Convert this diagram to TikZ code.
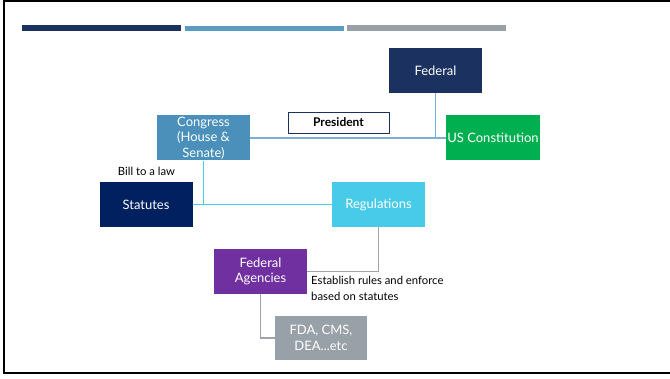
\documentclass[tikz,border=0pt]{standalone}
\usepackage{fontspec}
\setmainfont{Lato}
\usepackage{xcolor}
\usetikzlibrary{positioning}

\definecolor{navy}{HTML}{1B3160}
\definecolor{darknavy}{HTML}{002060}
\definecolor{steelblue}{HTML}{4A90BA}
\definecolor{linkblue}{HTML}{7BAFD4}
\definecolor{cyanbox}{HTML}{48CBE8}
\definecolor{greenbox}{HTML}{00B050}
\definecolor{purplebox}{HTML}{7030A0}
\definecolor{graybox}{HTML}{98A0A8}
\definecolor{grayline}{HTML}{A0A4AA}

\begin{document}
\begin{tikzpicture}[x=1pt, y=-1pt,
            box/.style={rectangle, minimum width=93pt, minimum height=45pt, align=center, inner sep=1pt,
                        text=white, font=\fontsize{13}{15.5}\selectfont},
            note/.style={font=\fontsize{11.3}{16}\selectfont, align=left, inner sep=0pt},
            link/.style={line width=1.5pt}]
            \useasboundingbox (0,0) rectangle (670,379);

            % 边框与标题条
            \draw[line width=2pt] (670,1) -- (3.5,1) -- (3.5,373.5) -- (670,373.5);
            \fill[navy] (22,25) rectangle (181,31);
            \fill[steelblue!90!white] (185,26) rectangle (344,31);
            \fill[graybox] (347,25) rectangle (506,31);

            % 上层
            \node[box, fill=navy] (federal) at (435.5,70.5) {Federal};
            \node[draw=navy, line width=0.8pt, minimum width=101pt, minimum height=21pt,
                  font=\bfseries\fontsize{12}{14}\selectfont] (president) at (338.5,122.5) {President};
            \node[box, fill=steelblue] (congress) at (203.5,138) {Congress\\(House \&\\Senate)};
            \node[box, fill=greenbox, minimum width=94pt, inner sep=0pt] (constitution) at (493,138) {US Constitution};

            % 中层
            \node[box, fill=darknavy] (statutes) at (146,204.5) {Statutes};
            \node[box, fill=cyanbox] (regulations) at (378.5,204.5) {Regulations};
            \node[note] (bill) at (146.5,171) {Bill to a law};

            % 下层
            \node[box, fill=purplebox] (agencies) at (260.5,271.5) {Federal\\Agencies};
            \node[note, anchor=north west] (establish) at (311,276) {Establish rules and enforce\\based on statutes};
            \node[box, fill=graybox, minimum width=92pt, minimum height=44pt] (fda) at (321,338) {FDA, CMS,\\DEA...etc};

            % 连接线
            \draw[link, linkblue] (congress.east) -- (constitution.west);
            \draw[link, linkblue] (federal.south) -- (federal.south |- congress.east);
            \draw[link, cyanbox] (congress.south) -- (congress.south |- statutes.east);
            \draw[link, cyanbox] (statutes.east) -- (regulations.west);
            \draw[link, grayline] (regulations.south) |- (agencies.east);
            \draw[link, grayline] (agencies.south) |- (fda.west);
        \end{tikzpicture}
\end{document}
